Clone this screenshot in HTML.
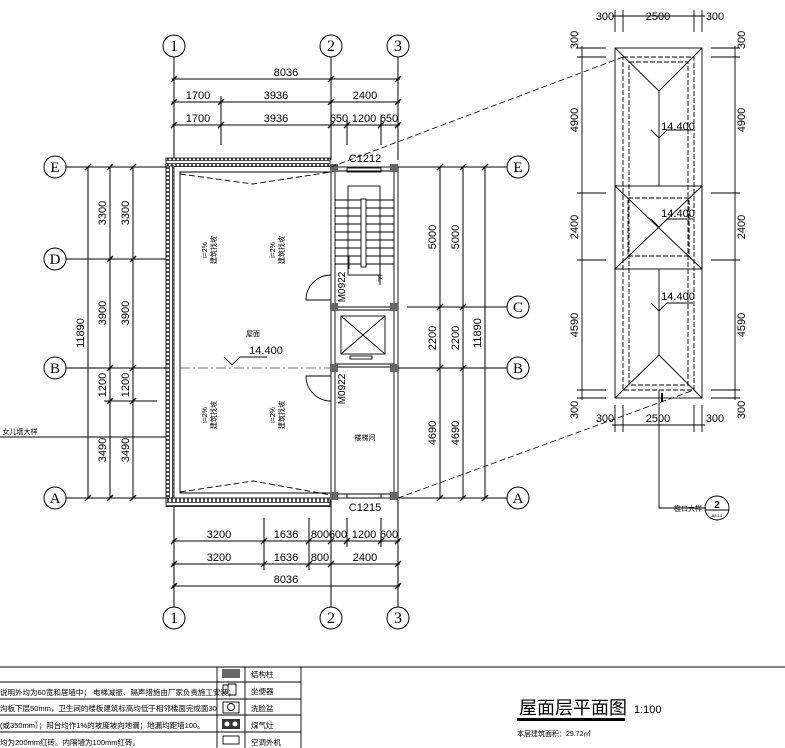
<!DOCTYPE html>
<html><head><meta charset="utf-8"><style>
html,body{margin:0;padding:0;background:#fff;}
svg{display:block;font-family:"Liberation Sans","Noto Sans CJK SC",sans-serif;}
</style></head><body>
<svg width="785" height="748" viewBox="0 0 785 748" xmlns="http://www.w3.org/2000/svg">
<defs>
<pattern id="hx" width="4" height="9" patternUnits="userSpaceOnUse"><rect width="4" height="9" fill="#fff"/><rect x="0.5" y="1.5" width="3" height="6" fill="none" stroke="#000" stroke-width="0.7"/></pattern>
<pattern id="hy" width="9" height="4" patternUnits="userSpaceOnUse"><rect width="9" height="4" fill="#fff"/><rect x="1.5" y="0.5" width="6" height="3" fill="none" stroke="#000" stroke-width="0.7"/></pattern>
</defs>
<g stroke="#000" stroke-width="1" fill="none">
<line x1="174" y1="57" x2="174" y2="160"/><line x1="331" y1="57" x2="331" y2="160"/><line x1="398" y1="57" x2="398" y2="160"/>
<line x1="174" y1="507" x2="174" y2="607"/><line x1="331" y1="500" x2="331" y2="607"/><line x1="398" y1="500" x2="398" y2="607"/>
<circle cx="174" cy="46" r="11"/><circle cx="331" cy="46" r="11"/><circle cx="398" cy="46" r="11"/>
<circle cx="174" cy="618" r="11"/><circle cx="331" cy="618" r="11"/><circle cx="398" cy="618" r="11"/>
<line x1="172" y1="79" x2="400" y2="79"/><line x1="172" y1="102" x2="400" y2="102"/><line x1="172" y1="125" x2="400" y2="125"/>
<line x1="221" y1="96" x2="221" y2="145"/><line x1="347" y1="120" x2="347" y2="145"/><line x1="381" y1="120" x2="381" y2="145"/>
<line x1="172" y1="541" x2="400" y2="541"/><line x1="172" y1="564" x2="400" y2="564"/><line x1="172" y1="586" x2="400" y2="586"/>
<line x1="264" y1="518" x2="264" y2="570"/><line x1="309" y1="518" x2="309" y2="570"/><line x1="347" y1="518" x2="347" y2="547"/><line x1="381" y1="518" x2="381" y2="547"/>
<circle cx="55" cy="167" r="11"/><circle cx="55" cy="259" r="11"/><circle cx="55" cy="368" r="11"/><circle cx="55" cy="498" r="11"/>
<line x1="66" y1="167" x2="166" y2="167"/><line x1="66" y1="259" x2="166" y2="259"/><line x1="66" y1="368" x2="166" y2="368"/><line x1="66" y1="498" x2="166" y2="498"/>
<line x1="88" y1="167" x2="88" y2="498"/><line x1="110" y1="167" x2="110" y2="498"/><line x1="133" y1="167" x2="133" y2="498"/>
<line x1="104" y1="401" x2="157" y2="401"/>
<line x1="0" y1="437" x2="172" y2="437"/>
<circle cx="518" cy="167" r="11"/><circle cx="518" cy="307" r="11"/><circle cx="518" cy="368" r="11"/><circle cx="518" cy="498" r="11"/>
<line x1="398" y1="167" x2="507" y2="167"/><line x1="407" y1="307" x2="507" y2="307"/><line x1="398" y1="368" x2="507" y2="368"/><line x1="398" y1="498" x2="507" y2="498"/>
<line x1="440" y1="167" x2="440" y2="498"/><line x1="463" y1="167" x2="463" y2="498"/><line x1="485" y1="167" x2="485" y2="498"/>
<line x1="180" y1="368" x2="331" y2="368" stroke="#777" stroke-dasharray="10,3,2,3"/>
</g>
<g stroke="#000" stroke-width="1.4">
<path d="M171 82L177 76M171 105L177 99M171 128L177 122M218 105L224 99M218 128L224 122M328 82L334 76M328 105L334 99M328 128L334 122M344 128L350 122M378 128L384 122M395 82L401 76M395 105L401 99M395 128L401 122"/>
<path d="M171 544L177 538M171 567L177 561M171 589L177 583M261 544L267 538M261 567L267 561M306 544L312 538M306 567L312 561M328 544L334 538M328 567L334 561M344 544L350 538M378 544L384 538M395 544L401 538M395 567L401 561M395 589L401 583"/>
<path d="M85 170L91 164M107 170L113 164M130 170L136 164M107 262L113 256M130 262L136 256M107 371L113 365M130 371L136 365M107 404L113 398M130 404L136 398M85 501L91 495M107 501L113 495M130 501L136 495"/>
<path d="M437 170L443 164M460 170L466 164M482 170L488 164M437 310L443 304M460 310L466 304M437 371L443 365M460 371L466 365M437 501L443 495M460 501L466 495M482 501L488 495"/>
</g>
<rect x="166" y="158" width="164" height="8.5" fill="url(#hx)" stroke="#000" stroke-width="0.8"/>
<rect x="166" y="498" width="164" height="8.5" fill="url(#hx)" stroke="#000" stroke-width="0.8"/>
<rect x="166" y="166" width="8" height="332" fill="url(#hy)" stroke="#000" stroke-width="0.8"/>
<g stroke="#000" fill="none" stroke-width="0.9">
<path d="M180 331V172H331M180 331V493H331"/>
<path d="M180 174L253 184L331 172M180 492L253 481L331 495" stroke-dasharray="6,3"/>
<rect x="331" y="167" width="67" height="331"/>
<line x1="335" y1="171" x2="335" y2="494"/><line x1="394" y1="171" x2="394" y2="494"/>
<line x1="335" y1="171" x2="394" y2="171"/><line x1="335" y1="494" x2="394" y2="494"/>
<rect x="347" y="168" width="34" height="4"/><rect x="347" y="494" width="34" height="4"/>
<rect x="348" y="186" width="32" height="89"/>
<path d="M335 200H394M335 208H394M335 216H394M335 224H394M335 232H394M335 240H394M335 248H394M335 256H394M335 264H394"/>
<rect x="361" y="199" width="5" height="68" fill="#fff"/>
<line x1="380" y1="244" x2="380" y2="285"/><line x1="349" y1="256" x2="349" y2="269"/>
<path d="M335 307H394M335 310H394M335 367H394M335 364H394"/>
<rect x="341" y="316" width="44" height="38"/><path d="M341 316L385 354M385 316L341 354"/>
<rect x="350" y="356" width="22" height="3"/>
<path d="M331 300H306A25 25 0 0 1 331 275"/>
<path d="M331 376H306A25 25 0 0 0 331 401" />
<path d="M224 357L232 365L240 357H267"/>
</g>
<g fill="#666">
<rect x="330" y="164" width="8" height="8"/><rect x="390" y="164" width="8" height="8"/>
<rect x="330" y="303" width="8" height="8"/><rect x="390" y="303" width="8" height="8"/>
<rect x="330" y="364" width="8" height="8"/><rect x="390" y="364" width="8" height="8"/>
<rect x="330" y="492" width="8" height="8"/><rect x="390" y="492" width="8" height="8"/>
</g>
<g stroke="#000" stroke-width="0.8" fill="none" stroke-dasharray="6,3">
<line x1="331" y1="167" x2="623" y2="57"/><line x1="398" y1="498" x2="694" y2="390"/>
</g>
<g stroke="#000" stroke-width="0.9" fill="none">
<rect x="615" y="48" width="87" height="350"/>
<rect x="615" y="186" width="87" height="83"/>
<rect x="623" y="57" width="71" height="333" stroke-dasharray="5,2"/>
<rect x="629" y="62" width="59" height="323" stroke-dasharray="5,2"/>
<rect x="628" y="198" width="61" height="58" stroke-dasharray="5,2"/>
<path d="M615 48L659 91L702 48M659 91V186M615 398L659 355L702 398M659 355V269M615 186L702 269M702 186L615 269"/>
<path d="M651 130L659 138L667 130H693M651 219L659 227L667 219H693M651 303L659 311L667 303H693"/>
<path d="M582 46V400M735 46V400M577 48H606M577 57H606M577 193H606M577 260H606M577 390H606M577 398H606M711 48H740M711 57H740M711 193H740M711 260H740M711 390H740M711 398H740"/>
<path d="M612 16H705M615 10V32M623 10V32M694 10V32M702 10V32M612 425H705M615 405V432M623 405V432M694 405V432M702 405V432"/>
<path d="M659 390V508H706"/><line x1="662" y1="393" x2="662" y2="402" stroke-width="2"/>
<circle cx="717" cy="508" r="12"/><line x1="705" y1="510" x2="729" y2="510"/>
<line x1="0" y1="667" x2="785" y2="667"/>
<line x1="301" y1="667" x2="301" y2="748"/>
<path d="M0 682H301M0 699H301M0 715H301M0 732H301M217 667V748M245 667V748"/>
<rect x="223" y="702" width="16" height="11"/><circle cx="231" cy="707" r="3.5"/>
<rect x="223" y="736" width="16" height="8"/>
<path d="M228 685H223V693H228ZM228 684H236V695H228"/>
</g>
<rect x="222" y="669" width="18" height="9" fill="#666"/>
<rect x="222" y="719" width="18" height="10" fill="#333"/><circle cx="227" cy="724" r="2.5" fill="#fff"/><circle cx="235" cy="724" r="2.5" fill="#fff"/>
<rect x="517" y="718" width="108" height="3" fill="#000"/>
<g font-size="11" fill="#000" text-anchor="middle">
<text x="174" y="51" font-size="16" font-family="Liberation Serif,serif">1</text><text x="331" y="51" font-size="16" font-family="Liberation Serif,serif">2</text><text x="398" y="51" font-size="16" font-family="Liberation Serif,serif">3</text>
<text x="174" y="623" font-size="16" font-family="Liberation Serif,serif">1</text><text x="331" y="623" font-size="16" font-family="Liberation Serif,serif">2</text><text x="398" y="623" font-size="16" font-family="Liberation Serif,serif">3</text>
<g font-size="15" font-family="Liberation Serif,serif"><text x="55" y="172">E</text><text x="55" y="264">D</text><text x="55" y="373">B</text><text x="55" y="503">A</text>
<text x="518" y="172">E</text><text x="518" y="312">C</text><text x="518" y="373">B</text><text x="518" y="503">A</text></g>
<text x="286" y="76">8036</text>
<text x="198" y="99">1700</text><text x="276" y="99">3936</text><text x="365" y="99">2400</text>
<text x="198" y="122">1700</text><text x="276" y="122">3936</text><text x="339" y="122">650</text><text x="364" y="122">1200</text><text x="389" y="122">650</text>
<text x="219" y="538">3200</text><text x="286" y="538">1636</text><text x="320" y="538">800</text><text x="338" y="538">600</text><text x="364" y="538">1200</text><text x="389" y="538">600</text>
<text x="219" y="561">3200</text><text x="286" y="561">1636</text><text x="320" y="561">800</text><text x="365" y="561">2400</text>
<text x="286" y="583">8036</text>
<text x="365" y="162">C1212</text><text x="365" y="511">C1215</text>
<text x="266" y="354">14.400</text>
<text x="253" y="336" font-size="7">屋面</text>
<text x="365" y="440" font-size="7">楼梯间</text>
<text x="379" y="281" font-size="8">下</text>
<text x="605" y="20">300</text><text x="658" y="20">2500</text><text x="715" y="20">300</text>
<text x="605" y="422">300</text><text x="658" y="422">2500</text><text x="715" y="422">300</text>
<text x="678" y="130">14.400</text><text x="678" y="217">14.400</text><text x="678" y="300">14.400</text>
<text x="717" y="508" font-size="10" font-weight="bold">2</text><text x="717" y="517" font-size="4">88-13</text>
<text x="688" y="511" font-size="7">檐口大样</text>
<text x="20" y="434" font-size="7">女儿墙大样</text>
</g>
<g font-size="11" fill="#000" text-anchor="middle">
<text transform="translate(84,333) rotate(-90)">11890</text>
<text transform="translate(106,213) rotate(-90)">3300</text><text transform="translate(129,213) rotate(-90)">3300</text>
<text transform="translate(106,313) rotate(-90)">3900</text><text transform="translate(129,313) rotate(-90)">3900</text>
<text transform="translate(106,385) rotate(-90)">1200</text><text transform="translate(129,385) rotate(-90)">1200</text>
<text transform="translate(106,450) rotate(-90)">3490</text><text transform="translate(129,450) rotate(-90)">3490</text>
<text transform="translate(436,237) rotate(-90)">5000</text><text transform="translate(459,237) rotate(-90)">5000</text>
<text transform="translate(436,338) rotate(-90)">2200</text><text transform="translate(459,338) rotate(-90)">2200</text>
<text transform="translate(481,333) rotate(-90)">11890</text>
<text transform="translate(436,433) rotate(-90)">4690</text><text transform="translate(459,433) rotate(-90)">4690</text>
<text transform="translate(345,287) rotate(-90)" font-size="10">M0922</text>
<text transform="translate(345,389) rotate(-90)" font-size="10">M0922</text>
<text transform="translate(578,120) rotate(-90)">4900</text><text transform="translate(745,120) rotate(-90)">4900</text>
<text transform="translate(578,227) rotate(-90)">2400</text><text transform="translate(745,227) rotate(-90)">2400</text>
<text transform="translate(578,325) rotate(-90)">4590</text><text transform="translate(745,325) rotate(-90)">4590</text>
<text transform="translate(578,40) rotate(-90)">300</text><text transform="translate(745,40) rotate(-90)">300</text>
<text transform="translate(578,410) rotate(-90)">300</text><text transform="translate(745,410) rotate(-90)">300</text>
<g font-size="7"><text transform="translate(207,250) rotate(-90)">i=2%</text><text transform="translate(216,250) rotate(-90)">建筑找坡</text>
<text transform="translate(275,250) rotate(-90)">i=2%</text><text transform="translate(284,250) rotate(-90)">建筑找坡</text>
<text transform="translate(207,415) rotate(-90)">i=2%</text><text transform="translate(216,415) rotate(-90)">建筑找坡</text>
<text transform="translate(275,415) rotate(-90)">i=2%</text><text transform="translate(284,415) rotate(-90)">建筑找坡</text></g>
</g>
<g font-size="7.5" fill="#000">
<text x="0" y="695">说明外均为60宽和居墙中； 电梯减振、隔声措施由厂家负责施工安装；</text>
<text x="0" y="711">沟板下层50mm，卫生间的楼板建筑标高均低于相邻楼面完成面30</text>
<text x="0" y="728">(或350mm）；阳台均作1%的坡度坡向地漏；地漏均距墙100。</text>
<text x="0" y="745">均为200mm红砖。内隔墙为100mm红砖。</text>
<text x="251" y="677">结构柱</text><text x="251" y="694">坐便器</text><text x="251" y="711">洗脸盆</text><text x="251" y="728">煤气灶</text><text x="251" y="745">空调外机</text>
<text x="517" y="736" font-size="7">本层建筑面积：29.72㎡</text>
</g>
<text x="519" y="714" font-size="18" fill="#000">屋面层平面图</text>
<text x="634" y="713" font-size="11" fill="#000">1:100</text>
</svg>
</body></html>
